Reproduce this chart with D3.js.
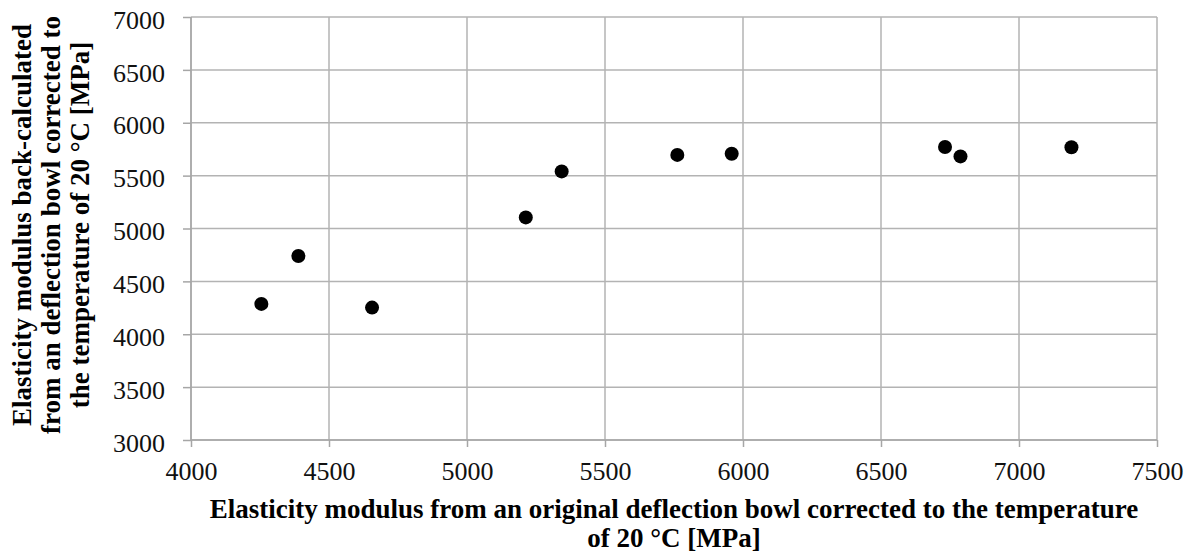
<!DOCTYPE html>
<html>
<head>
<meta charset="utf-8">
<script src="https://cdn.jsdelivr.net/npm/d3@7"></script>
<style>
  body { margin: 0; background: #fff; }
  text { font-family: "Liberation Serif", "Times New Roman", serif; fill: #000; }
  .grid line { stroke: #b3b3b3; stroke-width: 1.5; }
  .axis path, .axis line { stroke: #a6a6a6; stroke-width: 1.5; }
  .axis text { font-size: 26px; fill: #111; }
  .title { font-size: 27px; font-weight: bold; }
</style>
</head>
<body>
<div id="chart"></div>
<script>
// Values
var originalModulus = [4255, 4389, 4656, 5213, 5343, 5762, 5959, 6732, 6788, 7190];
var backCalcModulus = [4287, 4740, 4252, 5105, 5540, 5696, 5707, 5771, 5682, 5768];

var xTicks = [4000, 4500, 5000, 5500, 6000, 6500, 7000, 7500];
var yTicks = [3000, 3500, 4000, 4500, 5000, 5500, 6000, 6500, 7000];

var xTitleLines = [
  "Elasticity modulus from an original deflection bowl corrected to the temperature",
  "of 20 °C [MPa]"
];
var yTitleLines = [
  "Elasticity modulus back-calculated",
  "from an deflection bowl corrected to",
  "the temperature of 20 °C [MPa]"
];

var svgWidth = 1194;
var svgHeight = 559;

var margin = { top: 17, right: 37, bottom: 119, left: 191 };
var chartWidth = svgWidth - margin.left - margin.right;
var chartHeight = svgHeight - margin.top - margin.bottom;

var svg = d3.select("#chart")
  .append("svg")
  .attr("width", svgWidth)
  .attr("height", svgHeight);

var chartGroup = svg.append("g")
  .attr("transform", `translate(${margin.left}, ${margin.top})`);

var xScale = d3.scaleLinear().domain([4000, 7500]).range([0, chartWidth]);
var yScale = d3.scaleLinear().domain([3000, 7000]).range([chartHeight, 0]);

// gridlines
var grid = chartGroup.append("g").attr("class", "grid");
grid.selectAll(".v")
  .data(xTicks)
  .enter()
  .append("line")
  .attr("x1", d => xScale(d))
  .attr("x2", d => xScale(d))
  .attr("y1", 0)
  .attr("y2", chartHeight);
grid.selectAll(".h")
  .data(yTicks)
  .enter()
  .append("line")
  .attr("x1", 0)
  .attr("x2", chartWidth)
  .attr("y1", d => yScale(d))
  .attr("y2", d => yScale(d));

// axes
var bottomAxis = d3.axisBottom(xScale).tickValues(xTicks).tickSize(7).tickPadding(15).tickFormat(d3.format("d"));
var leftAxis = d3.axisLeft(yScale).tickValues(yTicks).tickSize(8).tickPadding(18).tickFormat(d3.format("d"));

chartGroup.append("g")
  .attr("class", "axis")
  .attr("transform", `translate(0, ${chartHeight})`)
  .call(bottomAxis)
  .call(g => g.select(".domain").attr("d", `M0,0H${chartWidth}`));

chartGroup.append("g")
  .attr("class", "axis")
  .call(leftAxis)
  .call(g => g.select(".domain").attr("d", `M0,${chartHeight}V0`))
  .call(g => g.selectAll(".tick text").attr("dy", "0.43em"));

// points
chartGroup.selectAll("circle")
  .data(originalModulus)
  .enter()
  .append("circle")
  .attr("cx", d => xScale(d))
  .attr("cy", (d, i) => yScale(backCalcModulus[i]))
  .attr("r", 7)
  .attr("fill", "#000");

// x axis title
chartGroup.append("text")
  .attr("class", "title")
  .attr("text-anchor", "middle")
  .selectAll("tspan")
  .data(xTitleLines)
  .enter()
  .append("tspan")
  .attr("x", chartWidth / 2)
  .attr("y", (d, i) => chartHeight + 78 + i * 28.5)
  .text(d => d);

// y axis title
chartGroup.append("text")
  .attr("class", "title")
  .attr("text-anchor", "middle")
  .attr("transform", "rotate(-90)")
  .selectAll("tspan")
  .data(yTitleLines)
  .enter()
  .append("tspan")
  .attr("x", -(225 - margin.top))
  .attr("y", (d, i) => -margin.left + 31 + i * 29)
  .text(d => d);
</script>
</body>
</html>
